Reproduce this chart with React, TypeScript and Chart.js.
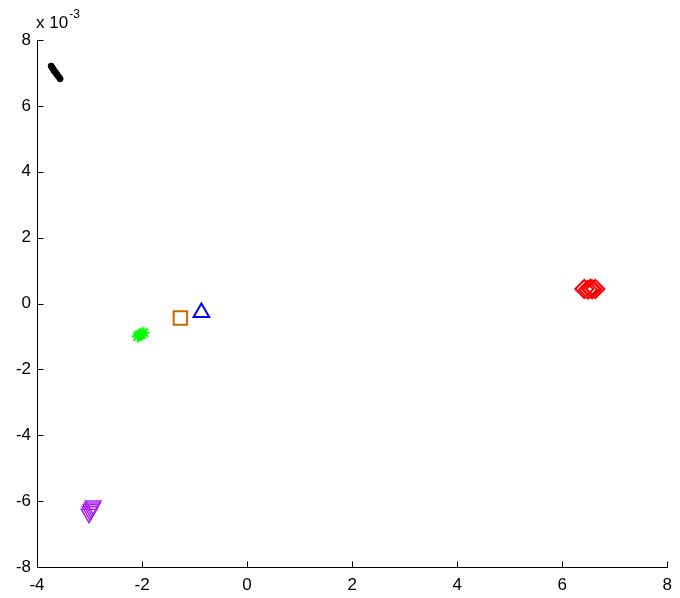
import { useEffect, useRef } from "react";
import { Chart, registerables } from "chart.js";

Chart.register(...registerables);

// Values (y in units of 1e-3)
const xTicks = [-4, -2, 0, 2, 4, 6, 8];
const yTicks = [-8, -6, -4, -2, 0, 2, 4, 6, 8];

const blackX = [-3.73, -3.71, -3.69, -3.67, -3.64, -3.62, -3.59, -3.56];
const blackY = [7.21, 7.16, 7.11, 7.05, 7.00, 6.95, 6.89, 6.82];

const redX = [6.42, 6.49, 6.54, 6.57, 6.63];
const redY = [0.44, 0.42, 0.45, 0.43, 0.44];

const greenX = [-2.08, -2.05, -2.01, -1.97];
const greenY = [-1.0, -0.96, -0.93, -0.89];

const orangeX = [-1.27];
const orangeY = [-0.44];

const blueX = [-0.87];
const blueY = [-0.27];

const purpleX = [-2.93, -2.95, -2.97, -2.99, -3.01];
const purpleY = [-6.13, -6.19, -6.25, -6.31, -6.38];

const FONT = '"Liberation Sans", Arial, Helvetica, sans-serif';

function pts(xs: number[], ys: number[]) {
  return xs.map((x, i) => ({ x, y: ys[i] }));
}

const axesPlugin = {
  id: "matlabAxes",
  afterDraw(chart: any) {
    const { ctx, chartArea: a, scales } = chart;
    const xs = scales.x;
    const ys = scales.y;
    ctx.save();
    ctx.strokeStyle = "#000";
    ctx.lineWidth = 1;
    ctx.beginPath();
    const left = Math.round(a.left) + 0.5;
    const bottom = Math.round(a.bottom) + 0.5;
    ctx.moveTo(left, Math.round(a.top));
    ctx.lineTo(left, bottom);
    ctx.lineTo(Math.round(a.right) + 1, bottom);
    xTicks.forEach((v) => {
      const px = Math.round(xs.getPixelForValue(v)) + 0.5;
      ctx.moveTo(px, bottom);
      ctx.lineTo(px, bottom - 6);
    });
    yTicks.forEach((v) => {
      const py = Math.round(ys.getPixelForValue(v)) + 0.5;
      ctx.moveTo(left, py);
      ctx.lineTo(left + 6, py);
    });
    ctx.stroke();
    ctx.fillStyle = "#000";
    ctx.textAlign = "left";
    ctx.textBaseline = "alphabetic";
    ctx.font = `17px ${FONT}`;
    const base = "x 10";
    ctx.fillText(base, 36, 28);
    const w = ctx.measureText(base).width;
    ctx.font = `12px ${FONT}`;
    ctx.fillText("-3", 36 + w + 1, 18);
    ctx.restore();
  },
};

export default function App() {
  const ref = useRef<HTMLCanvasElement>(null);
  useEffect(() => {
    if (!ref.current) return;
    const chart = new Chart(ref.current, {
      type: "scatter",
      data: {
        datasets: [
          {
            data: pts(blackX, blackY),
            pointStyle: "circle",
            pointRadius: 3,
            backgroundColor: "#000",
            borderColor: "#000",
            borderWidth: 1,
          },
          {
            data: pts(redX, redY),
            pointStyle: "rectRot",
            pointRadius: 9,
            backgroundColor: "rgba(0,0,0,0)",
            borderColor: "#ff0000",
            borderWidth: 2,
          },
          {
            data: pts(greenX, greenY),
            pointStyle: "star",
            pointRadius: 6,
            backgroundColor: "rgba(0,0,0,0)",
            borderColor: "#00ff00",
            borderWidth: 2,
          },
          {
            data: pts(orangeX, orangeY),
            pointStyle: "rect",
            pointRadius: 9.5,
            backgroundColor: "rgba(0,0,0,0)",
            borderColor: "#cc6600",
            borderWidth: 2,
          },
          {
            data: pts(blueX, blueY),
            pointStyle: "triangle",
            pointRadius: 9,
            backgroundColor: "rgba(0,0,0,0)",
            borderColor: "#0000ff",
            borderWidth: 2,
          },
          {
            data: pts(purpleX, purpleY),
            pointStyle: "triangle",
            rotation: 180,
            pointRadius: 9,
            backgroundColor: "rgba(0,0,0,0)",
            borderColor: "#aa22ee",
            borderWidth: 1.5,
          },
        ] as any,
      },
      options: {
        animation: false,
        responsive: false,
        devicePixelRatio: 1,
        layout: { padding: { left: 0, right: 11, top: 40, bottom: 0 } },
        plugins: { legend: { display: false }, tooltip: { enabled: false } },
        elements: { point: { hoverRadius: 9 } },
        scales: {
          x: {
            type: "linear",
            min: -4,
            max: 8,
            afterBuildTicks: (s: any) => {
              s.ticks = xTicks.map((v) => ({ value: v }));
            },
            afterFit: (s: any) => {
              s.height = 31;
            },
            grid: { display: false, drawTicks: false },
            border: { display: false },
            ticks: {
              color: "#000",
              padding: 8,
              font: { family: FONT, size: 17 },
              maxRotation: 0,
              autoSkip: false,
            },
          },
          y: {
            type: "linear",
            min: -8,
            max: 8,
            afterBuildTicks: (s: any) => {
              s.ticks = yTicks.map((v) => ({ value: v }));
            },
            afterFit: (s: any) => {
              s.width = 37;
            },
            grid: { display: false, drawTicks: false },
            border: { display: false },
            ticks: {
              color: "#000",
              padding: 6,
              font: { family: FONT, size: 17 },
              autoSkip: false,
            },
          },
        },
      },
      plugins: [axesPlugin],
    });
    return () => chart.destroy();
  }, []);
  return (
    <div style={{ position: "fixed", left: 0, top: 0, width: 680, height: 598, background: "#fff" }}>
      <canvas ref={ref} width={680} height={598} style={{ display: "block" }} />
    </div>
  );
}
